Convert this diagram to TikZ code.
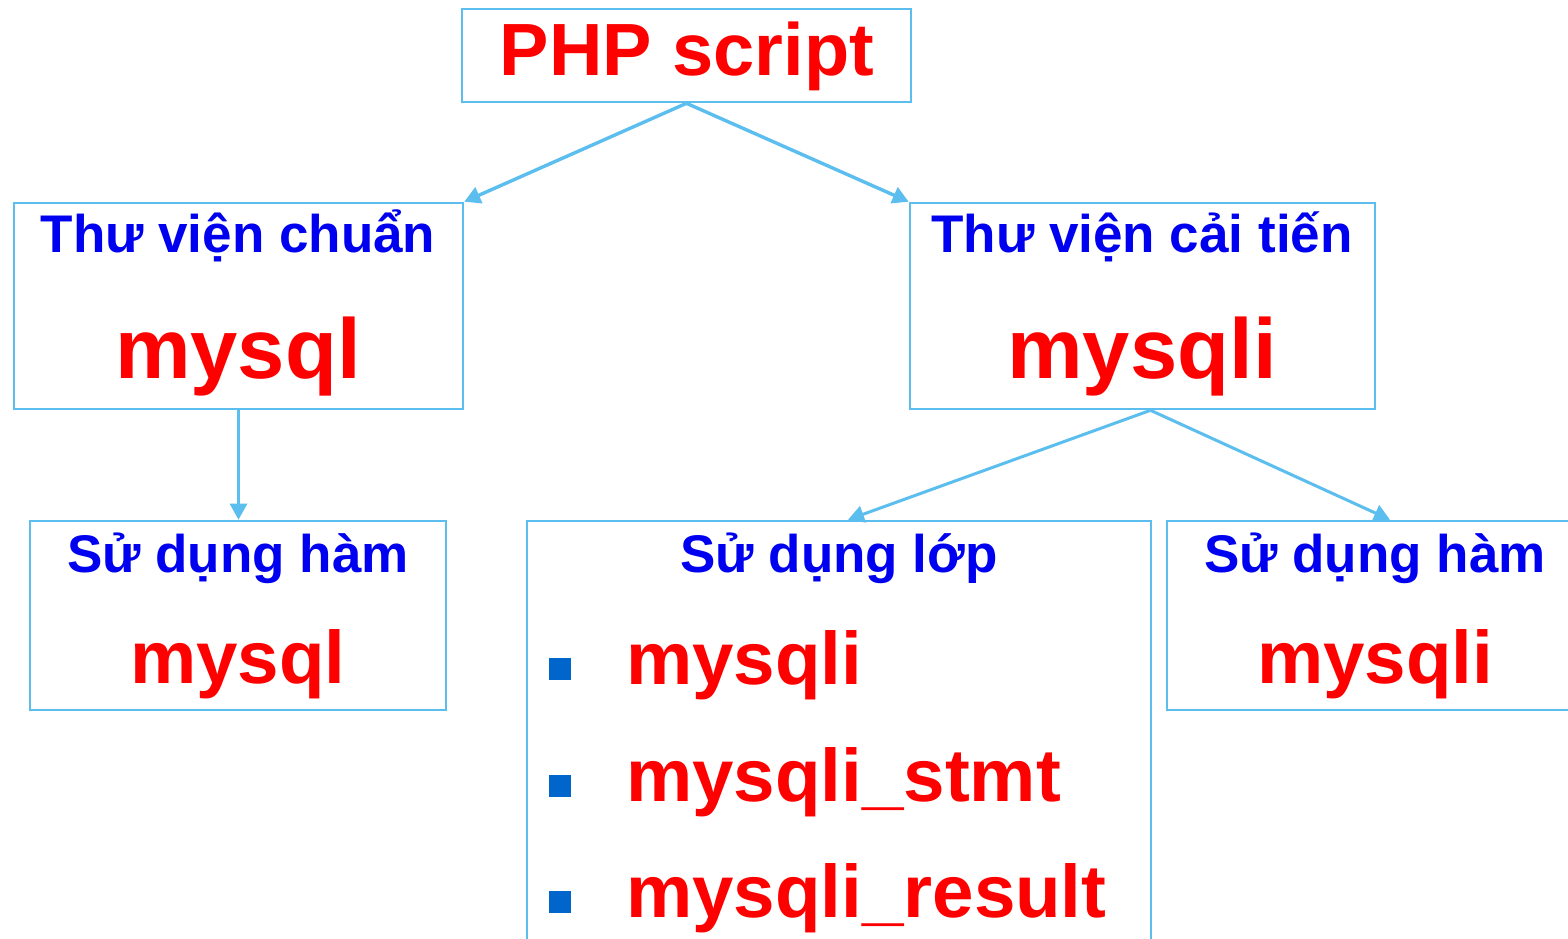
\documentclass[tikz,border=0pt]{standalone}
\usepackage{fontspec}
\setmainfont{Liberation Sans}
\usetikzlibrary{arrows.meta,fit,calc}
\definecolor{edgeblue}{HTML}{5BBEEF}
\definecolor{headblue}{HTML}{0000F0}
\definecolor{itemred}{HTML}{FF0000}
\definecolor{bulletblue}{HTML}{0066CC}
\tikzset{
  box/.style={draw=edgeblue, line width=2.6pt, inner sep=0pt, fill=white},
  conn/.style={draw=edgeblue, line width=3.4pt, -{Triangle[length=16pt,width=17pt]}},
  headtext/.style={anchor=base, inner sep=0pt, text=headblue, font=\bfseries\fontsize{53}{60}\selectfont},
  bigitem/.style={anchor=base, inner sep=0pt, text=itemred, font=\bfseries\fontsize{85}{90}\selectfont},
  itemtext/.style={anchor=base, inner sep=0pt, text=itemred, font=\bfseries\fontsize{74.5}{80}\selectfont},
  sq/.style={fill=bulletblue, minimum size=22pt, inner sep=0pt, draw=none}
}
\begin{document}
\begin{tikzpicture}[x=1pt, y=-1pt]
\useasboundingbox (0,0) rectangle (1568,938);
\clip (0,0) rectangle (1568,938);
\fill[white] (0,0) rectangle (1568,938);

% boxes
\node[box, fit={(462,9) (911,102)}] (php) {};
\node[box, fit={(14,203) (463,409)}] (std) {};
\node[box, fit={(910,203) (1375,409)}] (imp) {};
\node[box, fit={(30,521) (446,710)}] (fnl) {};
\node[box, fit={(527,521) (1151,960)}] (cls) {};
\node[box, fit={(1167,521) (1613,710)}] (fnr) {};

% connectors
\draw[conn] (php.south) -- (std.north east);
\draw[conn] (php.south) -- (imp.north west);
\draw[conn, line width=3pt] (std.south) -- (std.south |- fnl.north);
\draw[conn, line width=3pt] ($(imp.south)+(8,0)$) -- ($(cls.north)+(9,0)$);
\draw[conn, line width=3pt] ($(imp.south)+(8,0)$) -- (fnr.north);

% texts
\node[anchor=base, inner sep=0pt, text=itemred, font=\bfseries\fontsize{74}{80}\selectfont] (phpt) at (687,75) {PHP script};

\node[headtext] (stdh) at (238,252) {Thư viện chuẩn};
\node[bigitem] (stdn) at (238,378) {mysql};

\node[headtext] (imph) at (1142,252) {Thư viện cải tiến};
\node[bigitem] (impn) at (1142,378) {mysqli};

\node[headtext] (fnlh) at (238,572) {Sử dụng hàm};
\node[itemtext] (fnln) at (238,683) {mysql};

\node[headtext] (clsh) at (839,572) {Sử dụng lớp};
\node[sq] (b1) at (560,669) {};
\node[sq] (b2) at (560,786) {};
\node[sq] (b3) at (560,902) {};
\node[itemtext, anchor=base west] (i1) at (626,684) {mysqli};
\node[itemtext, anchor=base west] (i2) at (626,801) {mysqli\_stmt};
\node[itemtext, anchor=base west] (i3) at (626,917) {mysqli\_result};

\node[headtext] (fnrh) at (1375,572) {Sử dụng hàm};
\node[itemtext] (fnrn) at (1375,683) {mysqli};
\end{tikzpicture}
\end{document}
